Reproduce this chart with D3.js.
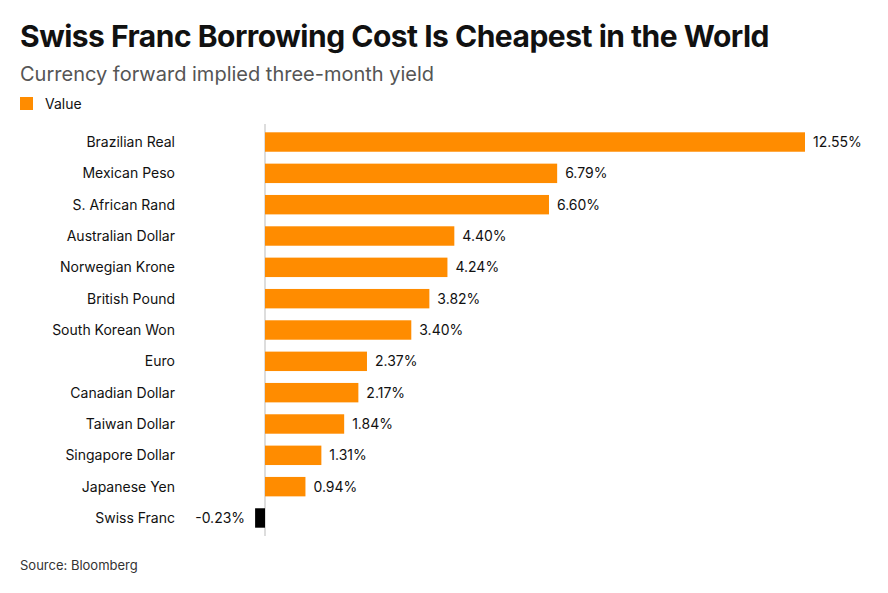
<!DOCTYPE html>
<html><head><meta charset="utf-8">
<script src="https://cdn.jsdelivr.net/npm/d3@7"></script>
<style>body{margin:0;background:#fff;font-family:Inter,"Noto Sans",sans-serif;}</style>
</head><body><div id="chart"></div>
<script>
var currencies = ["Brazilian Real","Mexican Peso","S. African Rand","Australian Dollar","Norwegian Krone","British Pound","South Korean Won","Euro","Canadian Dollar","Taiwan Dollar","Singapore Dollar","Japanese Yen","Swiss Franc"];
var yields = [12.55,6.79,6.60,4.40,4.24,3.82,3.40,2.37,2.17,1.84,1.31,0.94,-0.23];

var width = 888, height = 593;
var svg = d3.select("#chart").append("svg").attr("width", width).attr("height", height);

svg.append("text").attr("x", 20).attr("y", 47).attr("font-size", 30).attr("font-weight", 700)
	.attr("fill", "#111").attr("letter-spacing", -0.5).text("Swiss Franc Borrowing Cost Is Cheapest in the World");
svg.append("text").attr("x", 20).attr("y", 81).attr("font-size", 20).attr("fill", "#555")
	.text("Currency forward implied three-month yield");
svg.append("rect").attr("x", 20).attr("y", 97).attr("width", 13).attr("height", 13).attr("fill", "#ff8c00");
svg.append("text").attr("x", 45).attr("y", 109).attr("font-size", 14).attr("fill", "#111").text("Value");

var x = d3.scaleLinear().domain([0, 12.55]).range([265, 805]);
var y = d3.scaleBand().domain(currencies).range([120.4, 539.6]).padding(0.38);

svg.append("line").attr("x1", x(0)).attr("x2", x(0)).attr("y1", 124).attr("y2", 536)
	.attr("stroke", "#bbb").attr("stroke-width", 1);

var data = currencies.map(function(c, i){ return {name: c, v: yields[i]}; });

svg.selectAll(".bar").data(data).enter().append("rect")
	.attr("x", function(d){ return x(Math.min(0, d.v)); })
	.attr("y", function(d){ return y(d.name); })
	.attr("width", function(d){ return Math.abs(x(d.v) - x(0)); })
	.attr("height", y.bandwidth())
	.attr("fill", function(d){ return d.v < 0 ? "#000" : "#ff8c00"; });

svg.selectAll(".lbl").data(data).enter().append("text")
	.attr("x", 175).attr("y", function(d){ return y(d.name) + y.bandwidth()/2; })
	.attr("dy", "0.35em").attr("text-anchor", "end").attr("font-size", 14).attr("fill", "#111")
	.text(function(d){ return d.name; });

svg.selectAll(".val").data(data).enter().append("text")
	.attr("x", function(d){ return d.v < 0 ? x(d.v) - 10 : x(d.v) + 8; })
	.attr("y", function(d){ return y(d.name) + y.bandwidth()/2; })
	.attr("dy", "0.35em").attr("text-anchor", function(d){ return d.v < 0 ? "end" : "start"; })
	.attr("font-size", 14).attr("fill", "#111")
	.text(function(d){ return d.v.toFixed(2) + "%"; });

svg.append("text").attr("x", 20).attr("y", 570).attr("font-size", 13).attr("fill", "#333").text("Source: Bloomberg");
</script></body></html>
